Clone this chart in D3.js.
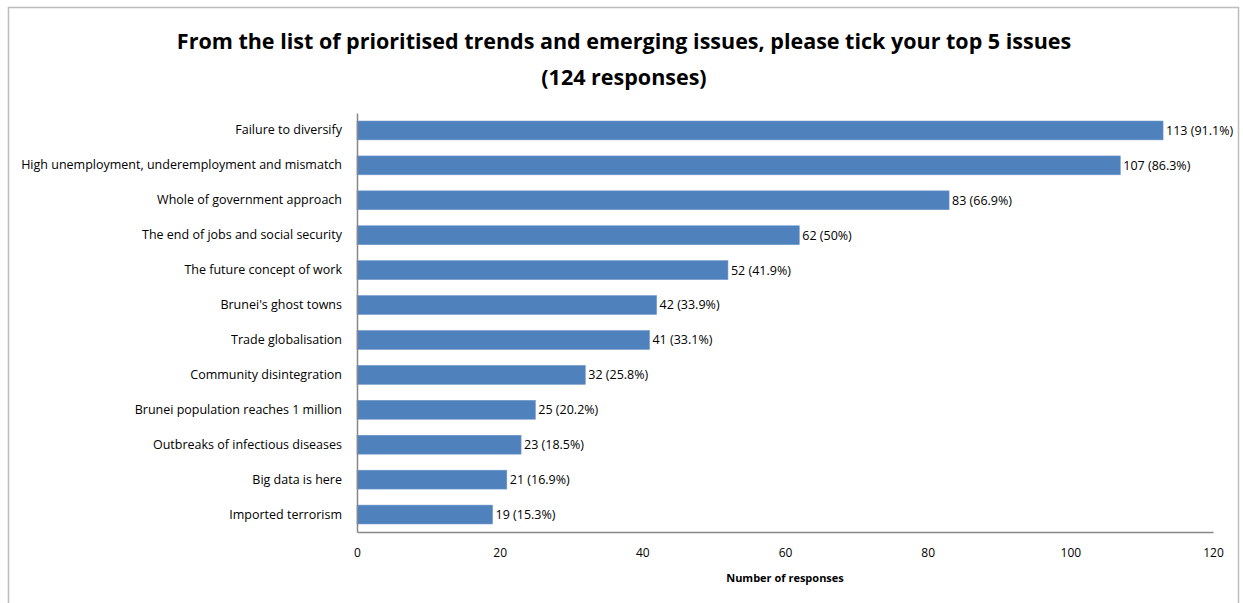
<!DOCTYPE html>
<html>
<head>
<meta charset="utf-8">
<script src="https://cdn.jsdelivr.net/npm/d3@7"></script>
<style>
  body { margin: 0; background: #fff; }
  text { font-family: "Open Sans", "DejaVu Sans", sans-serif; }
</style>
</head>
<body>
<div id="chart"></div>
<script>
    // chart data
    var categories = ["Failure to diversify",
        "High unemployment, underemployment and mismatch",
        "Whole of government approach",
        "The end of jobs and social security",
        "The future concept of work",
        "Brunei's ghost towns",
        "Trade globalisation",
        "Community  disintegration",
        "Brunei population reaches 1 million",
        "Outbreaks of infectious diseases",
        "Big data is here",
        "Imported terrorism"];
    var responses = [113, 107, 83, 62, 52, 42, 41, 32, 25, 23, 21, 19];
    var percents = ["91.1%", "86.3%", "66.9%", "50%", "41.9%", "33.9%", "33.1%", "25.8%", "20.2%", "18.5%", "16.9%", "15.3%"];
    var xTicks = [0, 20, 40, 60, 80, 100, 120];

    var W = 1243, H = 603;
    var svg = d3.select("#chart").append("svg").attr("width", W).attr("height", H);

    // outer frame
    svg.append("rect")
        .attr("x", 8.5).attr("y", 7.5)
        .attr("width", 1230).attr("height", 610)
        .style("fill", "none").style("stroke", "#bdbdbd").style("stroke-width", 1.5);

    // title
    var title = svg.append("text")
        .attr("text-anchor", "middle")
        .style("font-weight", "bold").style("font-size", "21.5px").style("fill", "#000");
    title.append("tspan").attr("x", 624).attr("y", 49)
        .text("From the list of prioritised trends and emerging issues, please tick your top 5 issues");
    title.append("tspan").attr("x", 624).attr("y", 85).text("(124 responses)");

    // plot box (pixels)
    var plotL = 357, plotR = 1213, plotT = 113, plotB = 532;

    var x = d3.scaleLinear().domain([0, 120]).range([plotL, plotR]);
    var y = d3.scaleBand().domain(categories).range([plotT, plotB]).paddingInner(0.46).paddingOuter(0.23);

    // bars
    svg.append("g").selectAll("rect")
        .data(categories)
        .enter()
        .append("rect")
        .attr("x", x(0))
        .attr("y", function (d) { return y(d); })
        .attr("width", function (d, i) { return x(responses[i]) - x(0); })
        .attr("height", y.bandwidth())
        .style("fill", "#4F81BD")
        .style("stroke", "#6d96c9").style("stroke-width", 0.6);

    // value labels
    svg.append("g").selectAll("text")
        .data(categories)
        .enter()
        .append("text")
        .attr("x", function (d, i) { return x(responses[i]) + 3; })
        .attr("y", function (d) { return y(d) + y.bandwidth() / 2; })
        .attr("dy", "0.35em")
        .style("font-size", "12.5px").style("fill", "#000")
        .text(function (d, i) { return responses[i] + " (" + percents[i] + ")"; });

    // category axis
    var yAxis = svg.append("g")
        .attr("transform", "translate(" + plotL + ",0)")
        .call(d3.axisLeft(y).tickSize(0).tickPadding(15));
    yAxis.select(".domain").style("stroke", "#888").style("stroke-width", 1.5);
    yAxis.selectAll("text").style("font-size", "12.5px").style("fill", "#000")
        .style("font-family", "'Open Sans', sans-serif");

    // value axis
    var xAxis = svg.append("g")
        .attr("transform", "translate(0," + plotB + ")")
        .call(d3.axisBottom(x).tickValues(xTicks).tickSize(0).tickPadding(16));
    xAxis.select(".domain").style("stroke", "#888").style("stroke-width", 1.5);
    xAxis.selectAll("text").style("font-size", "12px").style("fill", "#000")
        .style("font-family", "'Open Sans', sans-serif");

    svg.append("text")
        .attr("x", (plotL + plotR) / 2).attr("y", 582)
        .attr("text-anchor", "middle")
        .style("font-weight", "bold").style("font-size", "11px")
        .text("Number of responses");
</script>
</body>
</html>
